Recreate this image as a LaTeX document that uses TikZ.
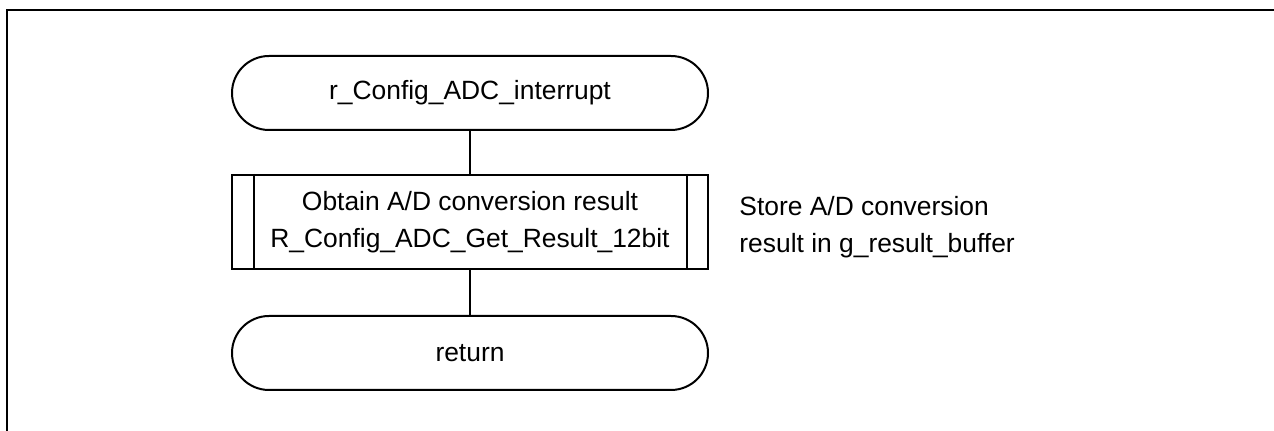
\documentclass[tikz,border=0pt]{standalone}
\usepackage{fontspec}
\setmainfont{Liberation Sans}
\begin{document}
\begin{tikzpicture}[x=0.5pt,y=-0.5pt,
  every node/.style={font=\fontsize{13.2pt}{18.5pt}\selectfont, inner sep=0pt},
  terminal/.style={draw, line width=1pt, rounded corners=18.5pt, minimum width=238pt, minimum height=37pt},
  procbox/.style={draw, line width=1pt, minimum width=238pt, minimum height=47pt, align=center},
  conn/.style={line width=1pt}]
\useasboundingbox (0,0) rectangle (1274,431);
\coordinate (fbl) at (7,431);
\coordinate (ftl) at (7,10);
\coordinate (ftr) at (1274,10);
\draw[line width=0.8pt] (fbl) -- (ftl) -- (ftr);
\node[terminal] (start) at (470,93) {r\_Config\_ADC\_interrupt};
\node[procbox] (proc) at (470,222) {Obtain A/D conversion result\\R\_Config\_ADC\_Get\_Result\_12bit};
\draw[line width=1pt] ([xshift=11.25pt]proc.north west) -- ([xshift=11.25pt]proc.south west);
\draw[line width=1pt] ([xshift=-11.25pt]proc.north east) -- ([xshift=-11.25pt]proc.south east);
\node[terminal] (ret) at (470,353) {return};
\node[anchor=west, align=left] (note) at (739,227) {Store A/D conversion\\result in g\_result\_buffer};
\draw[conn] (start) -- (proc);
\draw[conn] (proc) -- (ret);
\end{tikzpicture}
\end{document}
